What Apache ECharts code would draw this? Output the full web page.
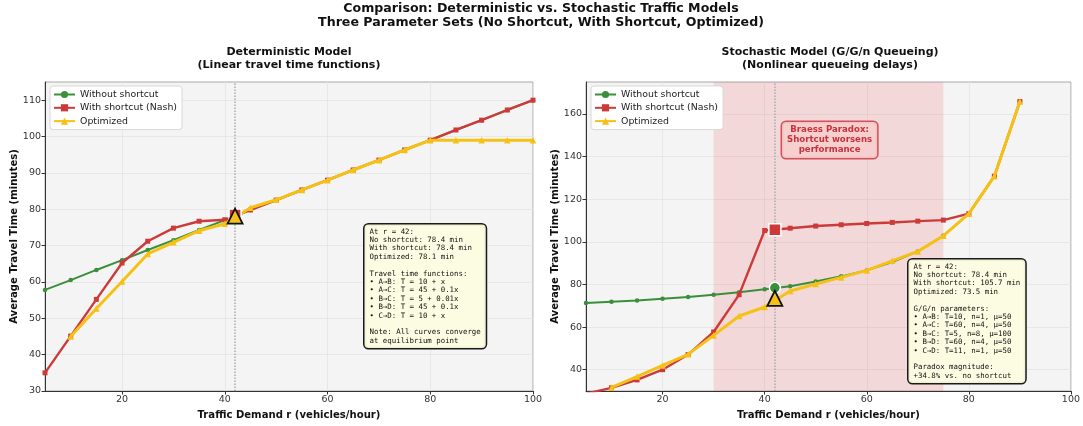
<!DOCTYPE html>
<html>
<head>
<meta charset="utf-8">
<script src="https://cdn.jsdelivr.net/npm/echarts@6/dist/echarts.min.js"></script>
<style>
  html, body { margin: 0; padding: 0; background: #fff; }
  #chart { width: 1083px; height: 426px; }
</style>
</head>
<body>
<div id="chart"></div>
<script>
// traffic demand r (vehicles/hour)
var demand = [5, 10, 15, 20, 25, 30, 35, 40, 45, 50, 55, 60, 65, 70, 75, 80, 85, 90, 95, 100];

// deterministic model
var detNoShortcut = [57.8, 60.5, 63.3, 66.0, 68.8, 71.5, 74.3, 77.0, 79.8, 82.5, 85.3, 88.0, 90.8, 93.5, 96.3, 99.0, 101.8, 104.5, 107.3, 110.0];
var detNash = [35.0, 45.1, 55.2, 65.2, 71.2, 74.8, 76.7, 77.1, 79.8, 82.5, 85.3, 88.0, 90.8, 93.5, 96.3, 99.0, 101.8, 104.5, 107.3, 110.0];
var detOpt = [null, 45.0, 52.7, 60.1, 67.7, 70.9, 74.1, 76.0, 80.4, 82.6, 85.3, 88.0, 90.8, 93.5, 96.3, 99.0, 99.0, 99.0, 99.0, 99.0];

// stochastic model (G/G/n)
var stoNoShortcut = [71.3, 71.9, 72.5, 73.3, 74.1, 75.2, 76.3, 77.7, 79.2, 81.4, 83.8, 86.6, 90.5, 95.5, 102.8, 113.2, 130.8, 165.8, null, null];
var stoNash = [28.8, 31.5, 35.2, 40.0, 47.1, 57.7, 75.2, 105.3, 106.4, 107.4, 108.0, 108.6, 109.1, 109.7, 110.2, 113.2, 130.8, 165.8, null, null];
var stoOpt = [null, 31.7, 36.8, 42.0, 47.2, 56.1, 65.2, 69.4, 76.9, 80.2, 83.3, 86.6, 91.1, 95.5, 102.8, 113.2, 130.8, 165.8, null, null];

// equilibrium at r = 42 : [no shortcut, nash, optimized]
var eqDemand = 42;
var detEq = [78.4, 78.4, 78.1];
var stoEq = [78.4, 105.7, 73.5];

// braess region (stochastic)
var paradoxRange = [30, 75];

var xTicks = [20, 40, 60, 80, 100];
var detYTicks = [30, 40, 50, 60, 70, 80, 90, 100, 110];
var stoYTicks = [40, 60, 80, 100, 120, 140, 160];

var names = ['Without shortcut', 'With shortcut (Nash)', 'Optimized'];
var colors = ['#3b8e3b', '#cc3a3a', '#f6c117'];

var detBox = [
  'At r = 42:',
  'No shortcut: 78.4 min',
  'With shortcut: 78.4 min',
  'Optimized: 78.1 min',
  '',
  'Travel time functions:',
  '• A→B: T = 10 + x',
  '• A→C: T = 45 + 0.1x',
  '• B→C: T = 5 + 0.01x',
  '• B→D: T = 45 + 0.1x',
  '• C→D: T = 10 + x',
  '',
  'Note: All curves converge',
  'at equilibrium point'
];
var stoBox = [
  'At r = 42:',
  'No shortcut: 78.4 min',
  'With shortcut: 105.7 min',
  'Optimized: 73.5 min',
  '',
  'G/G/n parameters:',
  '• A→B: T=10, n=1, μ=50',
  '• A→C: T=60, n=4, μ=50',
  '• B→C: T=5, n=8, μ=100',
  '• B→D: T=60, n=4, μ=50',
  '• C→D: T=11, n=1, μ=50',
  '',
  'Paradox magnitude:',
  '+34.8% vs. no shortcut'
];

function pairs(ys) {
  return demand.map(function (x, i) { return [x, ys[i]]; });
}

var font = 'DejaVu Sans';
var chart = echarts.init(document.getElementById('chart'));

function xAxis(idx) {
  return {
    type: 'value', gridIndex: idx, min: 5, max: 100,
    name: 'Traffic Demand r (vehicles/hour)', nameLocation: 'middle', nameGap: 9,
    nameTextStyle: { fontFamily: font, fontSize: 10.1, fontWeight: 'bold', color: '#111' },
    axisLine: { show: true, lineStyle: { color: '#333', width: 1 } },
    axisTick: { show: true, length: 3.5, lineStyle: { color: '#333' }, customValues: xTicks },
    axisLabel: { fontFamily: font, fontSize: 9.5, color: '#333', margin: 4, customValues: xTicks },
    splitLine: { show: true, lineStyle: { color: '#e3e3e3', width: 0.8 } }
  };
}
function yAxis(idx, min, max, ticks) {
  return {
    type: 'value', gridIndex: idx, min: min, max: max,
    name: 'Average Travel Time (minutes)', nameLocation: 'middle', nameGap: 25,
    nameTextStyle: { fontFamily: font, fontSize: 10.1, fontWeight: 'bold', color: '#111' },
    axisLine: { show: true, lineStyle: { color: '#333', width: 1 } },
    axisTick: { show: true, length: 3.5, lineStyle: { color: '#333' }, customValues: ticks },
    axisLabel: { fontFamily: font, fontSize: 9.5, color: '#333', margin: 4, customValues: ticks },
    splitLine: { show: true, lineStyle: { color: '#e3e3e3', width: 0.8 } }
  };
}

function lineSeries(idx, k, ys, extra) {
  var s = {
    name: names[k], type: 'line', xAxisIndex: idx, yAxisIndex: idx,
    data: pairs(ys), connectNulls: false, animation: false,
    symbol: ['circle', 'rect', 'triangle'][k],
    symbolSize: [4.5, 5, 6.5][k],
    lineStyle: { color: colors[k], width: [2, 2.4, 3][k] },
    itemStyle: { color: colors[k] },
    z: 2 + k
  };
  for (var key in extra) s[key] = extra[key];
  return s;
}

function eqSeries(idx, vals) {
  var out = [];
  var symbols = ['circle', 'rect', 'triangle'];
  var sizes = [11, 12, 15];
  for (var k = 0; k < 3; k++) {
    out.push({
      name: 'eq' + idx + k, type: 'scatter', xAxisIndex: idx, yAxisIndex: idx,
      data: [[eqDemand, vals[k]]], symbol: symbols[k], symbolSize: sizes[k],
      itemStyle: {
        color: colors[k], opacity: 1,
        borderColor: k === 2 ? '#111' : '#fff',
        borderWidth: k === 2 ? 1.8 : 1.5
      },
      z: 10 + k, animation: false
    });
  }
  return out;
}

function boxText(lines, x, y) {
  return {
    type: 'text', left: x, top: y, z: 50,
    style: {
      text: lines.join('\n'),
      font: '7.4px "DejaVu Sans Mono"',
      lineHeight: 8.4,
      fill: '#111',
      backgroundColor: 'rgba(252,252,226,0.95)',
      borderColor: '#1a1a1a', borderWidth: 1.5, borderRadius: 4,
      padding: [3, 5, 3, 5]
    }
  };
}

function legend(x) {
  return {
    data: names, orient: 'vertical', left: x, top: 86,
    itemWidth: 21, itemHeight: 9, itemGap: 4.3,
    padding: [4, 5, 4, 3],
    backgroundColor: '#fff', borderColor: '#d8d8d8', borderWidth: 1, borderRadius: 3,
    textStyle: { fontFamily: font, fontSize: 9.4, color: '#222' }
  };
}

var eqLine = {
  silent: true, symbol: 'none', label: { show: false },
  lineStyle: { color: '#aaa', type: 'dotted', width: 1.5 },
  data: [{ xAxis: eqDemand }]
};

var option = {
  animation: false,
  backgroundColor: '#fff',
  textStyle: { fontFamily: font },
  title: [
    {
      text: 'Comparison: Deterministic vs. Stochastic Traffic Models\nThree Parameter Sets (No Shortcut, With Shortcut, Optimized)',
      left: 541, top: 1, padding: 0, textAlign: 'center',
      textStyle: { fontFamily: font, fontSize: 12.6, fontWeight: 'bold', color: '#111', lineHeight: 14.5 }
    },
    {
      text: 'Deterministic Model\n(Linear travel time functions)',
      left: 289, top: 46, padding: 0, textAlign: 'center',
      textStyle: { fontFamily: font, fontSize: 11, fontWeight: 'bold', color: '#111', lineHeight: 12.5 }
    },
    {
      text: 'Stochastic Model (G/G/n Queueing)\n(Nonlinear queueing delays)',
      left: 830, top: 46, padding: 0, textAlign: 'center',
      textStyle: { fontFamily: font, fontSize: 11, fontWeight: 'bold', color: '#111', lineHeight: 12.5 }
    }
  ],
  legend: [legend(50), legend(591)],
  grid: [
    { left: 45, right: 550, top: 82, bottom: 35, show: true, backgroundColor: '#f4f4f4', borderColor: '#aaa', borderWidth: 1 },
    { left: 586, right: 10, top: 82, bottom: 35, show: true, backgroundColor: '#f4f4f4', borderColor: '#aaa', borderWidth: 1 }
  ],
  xAxis: [xAxis(0), xAxis(1)],
  yAxis: [yAxis(0, 30, 115, detYTicks), yAxis(1, 30, 175, stoYTicks)],
  series: [
    lineSeries(0, 0, detNoShortcut, { markLine: eqLine }),
    lineSeries(0, 1, detNash, {}),
    lineSeries(0, 2, detOpt, {})
  ].concat(eqSeries(0, detEq)).concat([
    lineSeries(1, 0, stoNoShortcut, {
      markLine: eqLine,
      markArea: {
        silent: true,
        itemStyle: { color: 'rgba(232,90,90,0.18)' },
        data: [[{ xAxis: paradoxRange[0] }, { xAxis: paradoxRange[1] }]]
      }
    }),
    lineSeries(1, 1, stoNash, {}),
    lineSeries(1, 2, stoOpt, {})
  ]).concat(eqSeries(1, stoEq)),
  graphic: [
    boxText(detBox, 363, 223),
    boxText(stoBox, 907, 258),
    {
      type: 'text', x: 829.6, y: 122, z: 50,
      style: {
        text: 'Braess Paradox:\nShortcut worsens\nperformance',
        font: 'bold 8.6px "DejaVu Sans"',
        lineHeight: 10,
        align: 'center',
        verticalAlign: 'top',
        fill: '#c8323a',
        backgroundColor: 'rgba(246,206,206,0.9)',
        borderColor: '#d45058', borderWidth: 1.5, borderRadius: 4,
        padding: [3, 5, 3, 5]
      }
    }
  ]
};

chart.setOption(option);
</script>
</body>
</html>
